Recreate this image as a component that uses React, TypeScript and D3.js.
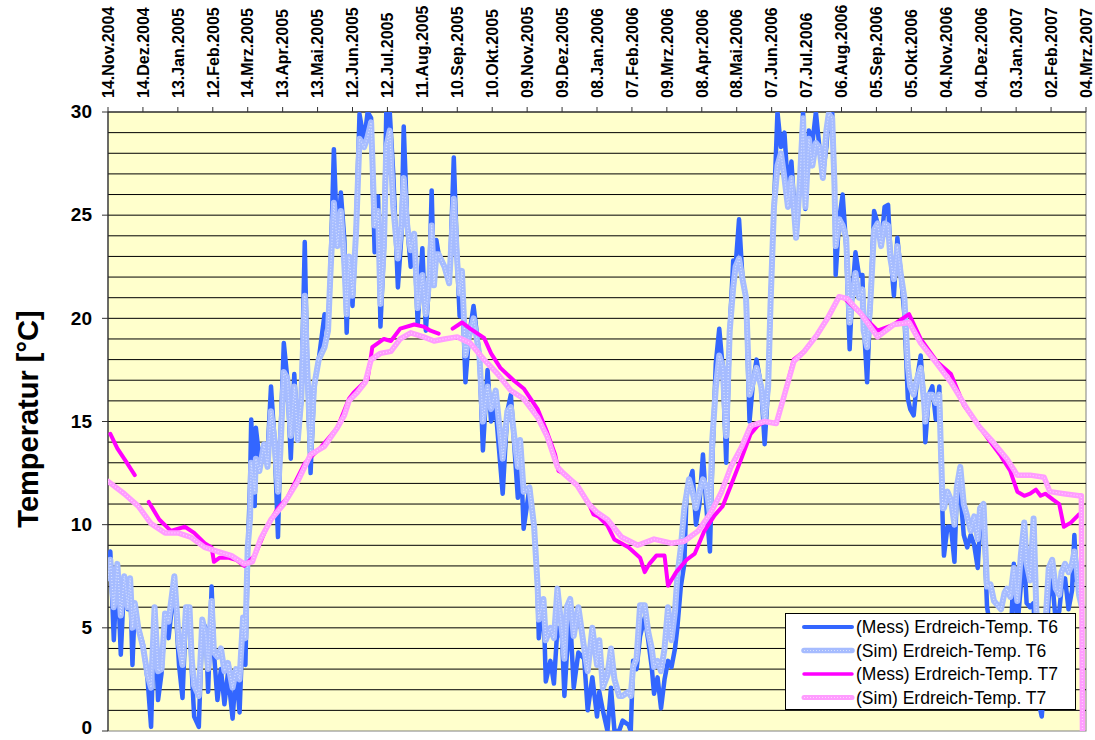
import React from 'react';
import * as d3 from 'd3';

// ---------- DATA ----------
// Day offsets from 14.Nov.2004
const t6Days = [
  0,2,5,8,11,14,17,19,21,23,
  26,30,34,37,40,43,46,49,52,57,
  61,64,67,70,72,74,78,81,84,86,
  89,91,94,97,100,103,107,110,113,116,
  118,120,122,123,126,127,130,134,137,140,
  143,146,148,151,154,157,160,163,166,169,
  171,174,177,181,186,189,191,194,197,200,
  203,205,207,210,213,216,220,223,226,229,
  232,234,237,239,242,245,249,252,254,257,
  260,263,266,270,273,276,278,280,282,284,
  289,293,294,297,300,302,304,307,310,314,
  319,322,326,329,333,339,343,346,352,354,
  357,362,366,369,370,374,376,380,383,386,
  390,392,394,397,400,404,409,412,416,420,
  422,425,429,432,435,439,442,447,449,451,
  454,457,461,464,467,469,472,475,478,481,
  484,487,489,492,495,497,499,502,505,508,
  511,514,517,519,522,525,528,531,534,537,
  539,542,545,548,551,554,557,561,564,567,
  569,572,575,578,581,584,587,589,591,594,
  597,599,602,605,608,611,614,617,619,622,
  624,625,628,631,634,637,639,642,645,648,
  649,652,655,658,661,664,667,670,672,675,
  678,681,684,687,689,692,695,698,701,702,
  705,708,711,714,715,717,718,721,724,727,
  729,732,735,738,741,744,747,749,752,755,
  758,761,764,767,770,772,775,778,781,784,
  787,789,792,795,797,799,802,805,808,811,
  814,817,819,822,825,828,830,832,834,836,
];
const t6Mess = [
  7.6,8.7,4.4,8.0,3.7,7.4,5.9,7.3,3.2,6.1,
  5.0,4.2,2.5,0.2,6.0,1.5,2.8,5.6,4.5,7.1,
  3.2,1.6,5.8,5.5,2.9,0.7,0.2,5.3,5.0,1.9,
  7.0,3.8,1.5,3.0,1.3,2.8,0.6,2.9,0.9,5.4,
  3.2,8.5,12.0,15.1,10.9,14.7,13.2,13.9,13.4,16.7,
  14.1,9.4,14.0,18.8,17.1,13.2,17.3,14.1,16.0,23.7,
  17.8,12.5,16.7,18.0,20.2,19.4,22.1,28.2,23.5,26.1,
  23.8,19.3,23.0,20.6,24.1,29.9,28.6,30.0,29.7,23.2,
  25.9,19.6,23.5,30.0,30.0,27.0,21.5,24.0,29.3,24.5,
  22.5,24.1,19.7,23.4,19.4,21.9,26.2,21.6,23.8,23.1,
  22.5,21.7,22.7,27.8,22.7,20.1,21.9,16.9,19.1,20.6,
  18.2,13.6,17.5,15.0,15.6,11.5,15.5,16.3,11.3,14.1,
  9.8,11.8,9.9,7.0,4.5,6.4,2.4,3.4,2.3,5.0,
  4.5,1.7,3.6,5.5,2.1,3.8,3.5,1.0,2.6,0.7,
  1.9,1.0,0.0,2.1,0.0,0.0,0.5,0.3,0.0,3.4,
  3.0,4.6,5.5,4.4,3.1,1.8,2.6,1.1,2.5,3.4,
  3.1,4.0,5.0,7.0,8.1,11.6,12.0,12.6,10.0,11.0,
  13.4,10.8,8.7,13.0,17.8,19.5,17.6,13.0,19.4,22.8,
  22.5,24.8,21.9,21.0,15.0,16.9,18.0,16.7,13.9,16.7,
  20.6,25.4,30.0,28.3,29.0,26.2,27.6,25.8,23.9,26.4,
  30.0,25.3,29.1,28.5,30.0,28.3,27.0,28.3,29.9,30.0,
  26.4,22.1,24.8,26.0,23.5,18.5,21.0,23.2,22.1,22.1,
  19.9,16.9,21.0,25.2,24.6,23.5,25.4,25.5,23.2,21.1,
  23.9,22.1,20.2,16.1,15.6,15.3,17.1,18.2,15.9,14.0,
  16.3,16.7,15.1,16.7,14.3,10.0,8.5,9.9,9.9,8.2,
  11.5,11.6,9.5,8.9,9.5,9.0,7.9,9.9,10.5,6.0,
  5.0,4.8,3.4,4.4,3.7,4.6,4.0,8.1,5.0,7.0,
  8.3,6.2,6.0,6.2,3.1,1.5,0.7,3.0,6.5,7.3,
  5.3,5.8,6.9,7.4,5.9,6.8,9.5,7.3,7.0,7.0,
];
const t6Sim = [
  7.4,8.3,6.0,8.1,5.6,7.5,6.0,7.4,5.0,6.2,
  5.0,4.1,2.7,2.1,6.0,2.9,3.0,5.7,5.3,7.5,
  4.2,3.2,6.0,6.0,3.4,2.2,1.7,5.4,4.6,3.0,
  6.3,3.8,3.6,4.0,2.9,3.3,2.1,3.0,2.5,5.5,
  4.5,8.9,10.3,13.0,11.6,13.2,12.6,13.9,12.8,15.5,
  14.1,11.6,13.5,17.4,17.1,14.3,16.7,14.1,16.1,21.1,
  17.8,13.6,16.7,18.0,18.6,19.4,22.1,25.6,23.5,25.2,
  22.6,20.2,23.0,21.1,24.1,28.7,28.3,28.8,29.5,24.5,
  25.2,20.7,23.5,28.3,29.1,25.4,22.9,24.5,26.8,24.5,
  23.3,24.1,20.5,22.1,20.2,21.9,24.5,21.6,23.1,23.1,
  22.5,21.7,22.7,25.8,22.7,21.2,22.3,18.2,19.1,20.0,
  18.2,15.0,16.7,15.6,16.5,13.2,15.5,15.7,12.8,14.1,
  11.6,11.8,9.9,7.0,5.4,6.4,4.4,5.0,4.5,6.9,
  4.8,3.5,6.0,6.4,4.6,6.0,4.0,2.9,5.0,3.2,
  4.4,2.1,2.7,4.0,2.5,1.7,1.7,1.9,1.7,3.1,
  3.5,6.1,6.1,4.8,4.0,3.1,3.4,2.9,4.0,6.0,
  4.4,5.8,7.5,8.9,10.8,11.5,12.2,11.6,10.8,11.6,
  12.2,11.8,10.5,14.1,16.6,18.2,17.6,14.3,19.4,21.5,
  22.5,22.9,21.9,21.0,16.3,16.9,17.6,16.7,15.1,16.7,
  20.6,25.4,27.4,28.0,26.8,25.4,26.8,25.4,23.9,26.4,
  29.7,25.4,28.7,27.4,28.5,28.3,26.8,29.1,29.9,29.7,
  26.4,23.5,24.8,24.5,23.9,19.8,21.0,22.2,21.0,21.4,
  19.4,18.6,21.0,24.3,24.6,23.5,24.6,24.5,22.9,21.9,
  23.5,22.1,21.0,17.7,16.7,16.3,17.1,17.6,15.9,15.0,
  16.3,16.3,15.9,16.3,14.3,10.8,10.8,11.6,11.2,10.0,
  11.8,12.8,11.0,10.4,9.7,10.4,9.3,10.8,11.0,7.0,
  7.1,6.3,6.1,5.9,6.7,6.9,6.5,7.9,6.3,8.5,
  10.1,8.1,7.3,10.3,6.5,3.1,3.1,5.0,7.9,8.3,
  6.9,6.6,7.7,8.1,7.7,8.1,8.7,7.9,6.6,6.1,
];

const t7SimDays = [
  0,14,26,37,49,60,71,83,94,106,
  117,124,131,140,151,163,174,186,197,203,
  207,214,221,226,234,243,251,260,271,280,
  289,300,311,323,334,346,357,369,377,386,
  391,403,413,420,429,441,455,469,484,495,
  507,518,527,535,544,552,564,574,581,589,
  598,609,618,628,635,647,661,675,688,698,
  712,724,738,749,761,772,781,792,804,809,
  821,834,836,837,
];
const t7Sim = [
  12.1,11.5,10.9,10.05,9.6,9.6,9.4,8.9,8.7,8.5,
  8.1,8.2,9.3,10.25,11.0,12.1,13.4,13.8,14.7,15.3,
  16.0,16.4,16.9,18.0,18.3,18.4,19.0,19.3,19.1,18.9,
  19.0,19.1,18.8,18.0,17.35,16.5,16.1,15.2,14.3,12.8,
  12.5,11.9,11.0,10.6,10.25,9.4,9.0,9.3,9.1,9.2,
  9.7,10.6,11.6,12.8,13.75,14.8,15.0,14.9,16.3,17.9,
  18.4,19.2,20.0,21.05,20.95,20.2,19.1,19.7,19.8,18.8,
  17.8,16.9,15.6,14.7,13.95,13.2,12.4,12.4,12.3,11.6,
  11.5,11.4,11.4,0,
];

const t7MessDays = [
  2,8,15,23,29,35,44,54,66,74,
  83,89,91,96,103,110,117,126,137,146,
  154,169,183,197,207,211,223,227,237,243,
  251,263,271,277,284,290,296,304,311,323,
  329,337,349,357,369,377,384,387,391,403,
  413,417,421,429,435,447,457,461,465,471,
  478,481,488,497,504,512,521,528,535,544,
  552,558,564,574,581,589,598,609,618,628,
  632,647,661,675,688,698,712,724,735,749,
  758,766,775,781,787,792,797,801,805,812,
  817,821,827,834,
];
const t7Mess: (number | null)[] = [
  14.4,13.7,13.1,12.4,null,11.1,10.25,9.7,9.9,9.6,
  9.1,8.9,8.2,8.4,8.4,8.3,8.0,8.5,9.96,10.8,
  11.3,12.98,13.76,14.7,16.1,16.4,17.06,18.6,19.0,18.9,
  19.5,19.7,19.6,19.4,19.26,null,19.5,19.8,19.5,19.05,
  18.3,17.6,16.96,16.6,15.6,14.5,13.4,12.6,12.5,11.9,
  11.0,10.5,10.4,9.96,9.28,8.9,8.4,7.7,8.1,8.5,
  8.5,7.04,7.7,8.3,8.6,9.67,10.45,10.9,11.9,13.2,
  14.4,14.8,15.0,14.9,16.3,18.0,18.4,19.2,20.0,21.05,
  21.0,20.2,19.4,19.7,20.2,19.0,17.9,17.3,15.8,14.7,
  14.0,13.4,12.6,11.6,11.4,11.5,11.7,11.4,11.5,11.2,
  11.0,9.9,10.1,10.5,
];

const xTickLabels = [
  '14.Nov.2004','14.Dez.2004','13.Jan.2005','12.Feb.2005','14.Mrz.2005','13.Apr.2005',
  '13.Mai.2005','12.Jun.2005','12.Jul.2005','11.Aug.2005','10.Sep.2005','10.Okt.2005',
  '09.Nov.2005','09.Dez.2005','08.Jan.2006','07.Feb.2006','09.Mrz.2006','08.Apr.2006',
  '08.Mai.2006','07.Jun.2006','07.Jul.2006','06.Aug.2006','05.Sep.2006','05.Okt.2006',
  '04.Nov.2006','04.Dez.2006','03.Jan.2007','02.Feb.2007','04.Mrz.2007',
];
const tickStepDays = 30;
const yTicks = [0, 5, 10, 15, 20, 25, 30];
const seriesNames = [
  '(Mess) Erdreich-Temp. T6',
  '(Sim) Erdreich-Temp. T6',
  '(Mess) Erdreich-Temp. T7',
  '(Sim) Erdreich-Temp. T7',
];
const yTitle = 'Temperatur [°C]';

// ---------- LAYOUT ----------
const W = 1095, H = 740;
const PL = 108, PR = 1086, PT = 112, PB = 731;
const START = Date.UTC(2004, 10, 14);
const dayToDate = (d: number) => new Date(START + d * 86400000);
const FONT = 'Arial, "Liberation Sans", Helvetica, sans-serif';

const x = d3.scaleUtc().domain([dayToDate(0), dayToDate(840)]).range([PL, PR]);
const y = d3.scaleLinear().domain([0, 30]).range([PB, PT]);

type P = { d: number; v: number | null };
const zip = (days: number[], vals: (number | null)[]): P[] => days.map((d, i) => ({ d, v: vals[i] }));

const line = d3.line<P>()
  .defined(p => p.v != null)
  .x(p => x(dayToDate(p.d)))
  .y(p => y(p.v as number))
  .curve(d3.curveLinear);

const series = [
  { name: seriesNames[0], data: zip(t6Days, t6Mess), stroke: '#3366FF', width: 4.5, dots: false },
  { name: seriesNames[1], data: zip(t6Days, t6Sim), stroke: '#a6bcff', width: 6, dots: true },
  { name: seriesNames[2], data: zip(t7MessDays, t7Mess), stroke: '#FF00FF', width: 4, dots: false },
  { name: seriesNames[3], data: zip(t7SimDays, t7Sim), stroke: '#ff9cff', width: 5.5, dots: true },
];

export default function App() {
  const tickDays = d3.range(0, 841, tickStepDays);
  const grid = d3.range(1, 31);
  const legendY = [627, 650.5, 674, 697.5];
  return (
    <svg width={W} height={H} style={{ position: 'absolute', left: 0, top: 0, background: '#fff' }} fontFamily={FONT}>
      <defs>
        <clipPath id="plotClip">
          <rect x={PL} y={PT} width={PR - PL} height={PB - PT} />
        </clipPath>
      </defs>
      <rect x={PL} y={PT} width={PR - PL} height={PB - PT} fill="#FFFFCC" stroke="#808080" strokeWidth={1} />
      {grid.map(g => (
        <line key={g} x1={PL} x2={PR} y1={y(g)} y2={y(g)} stroke="#000" strokeWidth={1} />
      ))}
      {/* left axis */}
      <line x1={PL} x2={PL} y1={PT} y2={PB} stroke="#333" strokeWidth={1.2} />
      {yTicks.map(t => (
        <g key={t}>
          <line x1={PL - 6} x2={PL} y1={y(t)} y2={y(t)} stroke="#333" />
          <text x={92} y={Math.min(y(t), 728)} dy="0.33em" textAnchor="end" fontSize={19} fontWeight="bold">{t}</text>
        </g>
      ))}
      {/* top axis ticks */}
      {tickDays.map((d, i) => {
        const xp = x(dayToDate(d));
        return (
          <g key={d}>
            <line x1={xp} x2={xp} y1={PT - 5} y2={PT} stroke="#333" />
            <text transform={`translate(${xp},98) rotate(-90)`} dy="0.36em" fontSize={16} fontWeight="bold">{xTickLabels[i]}</text>
          </g>
        );
      })}
      <text transform={`translate(38,419) rotate(-90)`} textAnchor="middle" fontSize={29} fontWeight="bold">{yTitle}</text>
      <g clipPath="url(#plotClip)">
        {series.map(s => {
          const dd = line(s.data) || '';
          return (
            <g key={s.name}>
              <path d={dd} fill="none" stroke={s.stroke} strokeWidth={s.width}
                strokeLinejoin="round" strokeLinecap="round" />
              {s.dots && (
                <path d={dd} fill="none" stroke="#ffffff" strokeOpacity={0.55} strokeWidth={1.2}
                  strokeDasharray="1 2" strokeLinejoin="round" />
              )}
            </g>
          );
        })}
      </g>
      {/* legend */}
      <rect x={785.5} y={613.5} width={290} height={96} fill="#fff" stroke="#000" strokeWidth={1} />
      {series.map((s, i) => (
        <g key={s.name}>
          <line x1={804} x2={852} y1={legendY[i]} y2={legendY[i]} stroke={s.stroke} strokeWidth={s.width - 0.5} strokeLinecap="round" />
          {s.dots && (
            <line x1={804} x2={852} y1={legendY[i]} y2={legendY[i]} stroke="#fff" strokeOpacity={0.55} strokeWidth={1.2} strokeDasharray="1 2" />
          )}
          <text x={856} y={legendY[i]} dy="0.36em" fontSize={17.5}>{s.name}</text>
        </g>
      ))}
    </svg>
  );
}
